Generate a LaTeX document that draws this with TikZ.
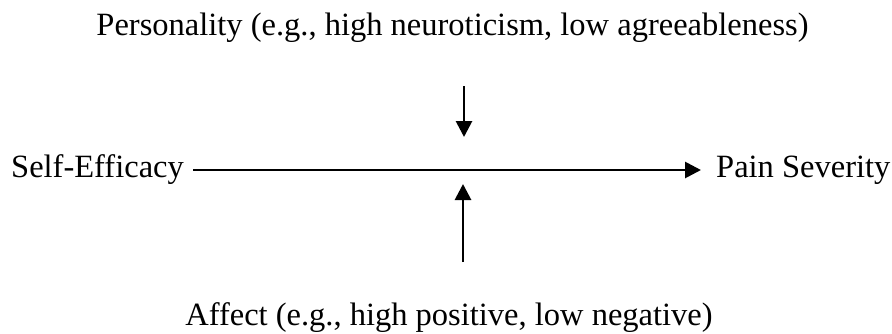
\documentclass[tikz,border=0pt]{standalone}
\usepackage{fontspec}
\setmainfont{Liberation Serif}
\usetikzlibrary{arrows.meta}
\begin{document}
\begin{tikzpicture}[x=1pt,y=-1pt,
  lbl/.style={font=\fontsize{32.5}{39}\selectfont, inner sep=0pt, anchor=base},
  conn/.style={line width=2.8pt, -{Triangle[length=16pt,width=16pt]}}]
\useasboundingbox (0,0) rectangle (892,333);
\node[lbl] (pers) at (452.5,35) {Personality (e.g., high neuroticism, low agreeableness)};
\node[lbl, anchor=base west] (se) at (11,177) {Self-Efficacy};
\node[lbl, anchor=base west] (ps) at (716,177) {Pain Severity};
\node[lbl] (aff) at (449,325) {Affect (e.g., high positive, low negative)};
\coordinate (dtop) at (464,86);
\coordinate (dtip) at (464,137);
\coordinate (ubot) at (463,262);
\coordinate (utip) at (463,184);
\draw[conn] ([xshift=9pt,yshift=7pt]se.base east) -- ([xshift=-15pt,yshift=7pt]ps.base west);
\draw[conn] (dtop) -- (dtip);
\draw[conn] (ubot) -- (utip);
\end{tikzpicture}
\end{document}
